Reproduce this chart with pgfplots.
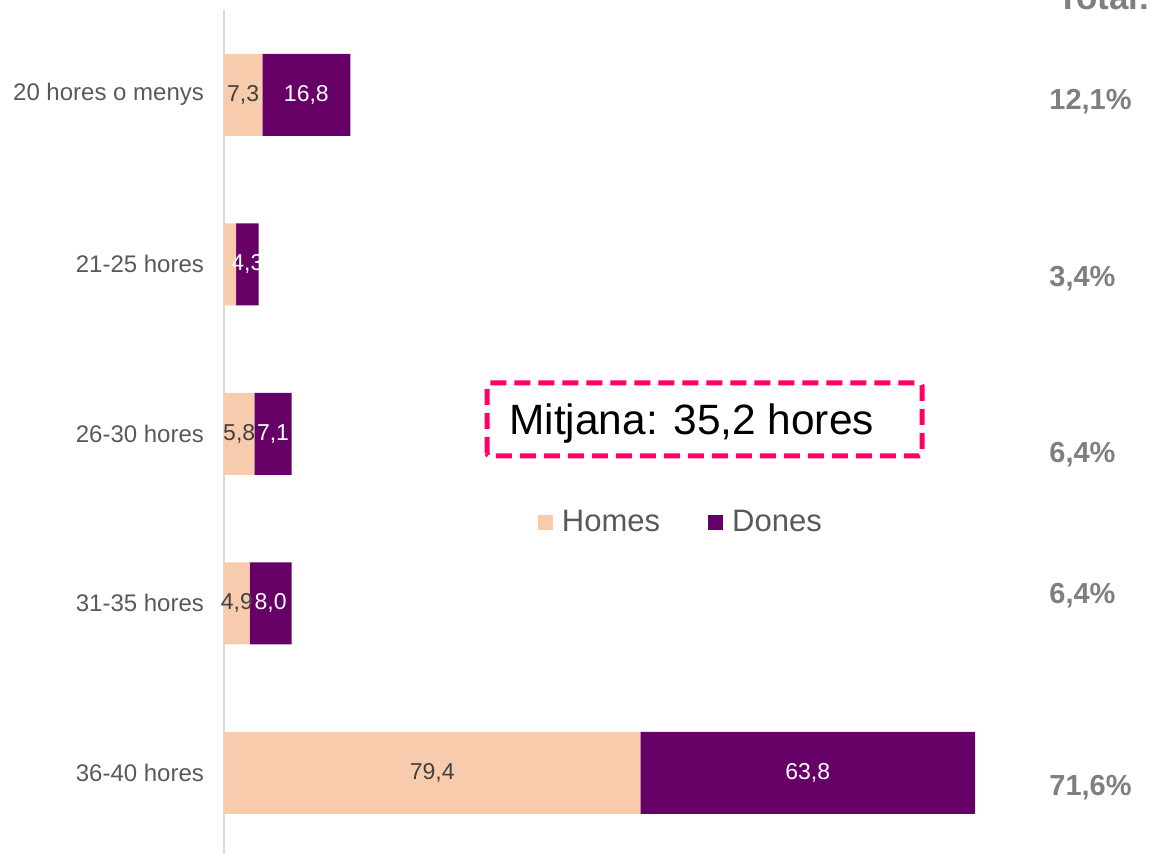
\documentclass[border=0pt]{standalone}
\usepackage{pgfplots}
\pgfplotsset{compat=1.18}
\usepackage{pgfplotstable}
\usepackage{fontspec}
\setmainfont{Liberation Sans}
\definecolor{homes}{HTML}{F8CBAD}
\definecolor{dones}{HTML}{660066}
\definecolor{tickgray}{HTML}{595959}
\definecolor{valgray}{HTML}{404040}
\definecolor{totgray}{HTML}{7F7F7F}
\definecolor{boxpink}{HTML}{FF0066}
\definecolor{axgray}{HTML}{D9D9D9}

\pgfplotstableread{
pos h d
0 79.4 63.8
1 4.9 8.0
2 5.8 7.1
3 2.3 4.3
4 7.3 16.8
}\datatable

% value label (the tiny 2,3 segment carries no label in the reference)
\newcommand\barlabel[1]{%
  \ifdim#1pt<3pt\relax\else
  \pgfmathprintnumber[assume math mode=true,use comma,fixed,fixed zerofill,precision=1]{#1}%
  \fi}

\begin{document}
\begin{tikzpicture}
\useasboundingbox (0,0) rectangle (582.5pt,427pt);
\begin{axis}[
  at={(112pt,0pt)}, anchor=south west,
  scale only axis, width=393.375pt, height=422pt,
  xbar stacked, bar width=41pt,
  xmin=0, xmax=150, ymin=-0.478, ymax=4.5,
  hide x axis,
  axis y line*=left,
  y axis line style={axgray, line width=1pt, -},
  ytick={0,1,2,3,4},
  yticklabels={36-40 hores,31-35 hores,26-30 hores,21-25 hores,20 hores o menys},
  yticklabel style={font=\fontsize{12}{14}\selectfont, text=tickgray, xshift=-6.5pt},
  major tick length=0pt,
  clip=false,
  legend columns=2,
  legend style={draw=none, fill=none, font=\fontsize{15.5}{18}\selectfont, text=tickgray,
    at={(0.582,0.393)}, anchor=center,
    /tikz/every even column/.append style={column sep=22pt}},
  legend image code/.code={\fill[#1,draw=none] (0pt,-3.75pt) rectangle (7.5pt,3.75pt);\path (10pt,0pt);},
]
\addplot[fill=homes, draw=none,
  point meta=explicit symbolic,
  nodes near coords={\barlabel{\pgfplotspointmeta}},
  every node near coord/.append style={anchor=center, text=valgray, font=\fontsize{11.5}{13}\selectfont},
] table[x=h, y=pos, meta=h] {\datatable};
\addlegendentry{Homes}
\addplot[fill=dones, draw=none,
  point meta=explicit symbolic,
  nodes near coords={\barlabel{\pgfplotspointmeta}},
  every node near coord/.append style={anchor=center, text=white, font=\fontsize{11.5}{13}\selectfont},
] table[x=d, y=pos, meta=d] {\datatable};
\addlegendentry{Dones}
\end{axis}
\begin{scope}[every node/.style={inner sep=0pt, text=totgray, font=\fontsize{14.5}{17}\selectfont\bfseries}]
\node[anchor=base west] at (524.5pt,372pt) {12,1\%};
\node[anchor=base west] at (524.5pt,283.75pt) {3,4\%};
\node[anchor=base west] at (524.5pt,195.75pt) {6,4\%};
\node[anchor=base west] at (524.5pt,125.25pt) {6,4\%};
\node[anchor=base west] at (524.5pt,29.25pt) {71,6\%};
\node[anchor=base west, font=\fontsize{17.5}{20}\selectfont\bfseries] at (528.5pt,422pt) {Total:};
\end{scope}
\draw[boxpink, line width=2.5pt, dash pattern=on 8pt off 4pt, rounded corners=1.5pt] (243.5pt,199pt) rectangle (461pt,235.5pt);
\node[anchor=base west, inner sep=0pt, font=\fontsize{21.2}{24}\selectfont] at (254.5pt,209.5pt) {Mitjana: 35,2 hores};
\end{tikzpicture}
\end{document}
